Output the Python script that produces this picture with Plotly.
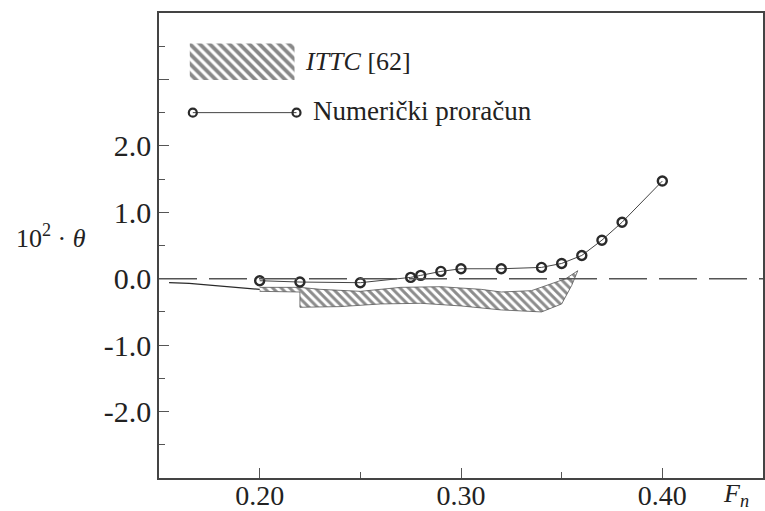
import plotly.graph_objects as go

# numerički proračun (Fn, 10^2*theta)
fn = [0.20, 0.22, 0.25, 0.275, 0.28, 0.29, 0.30, 0.32, 0.34, 0.35, 0.36, 0.37, 0.38, 0.40]
theta = [-0.03, -0.05, -0.06, 0.02, 0.05, 0.11, 0.15, 0.15, 0.17, 0.23, 0.35, 0.58, 0.85, 1.47]

# ITTC [62] pojas - gornja i donja granica
ittc_up_x = [0.20, 0.22, 0.23, 0.25, 0.27, 0.29, 0.31, 0.32, 0.335, 0.345, 0.352, 0.358]
ittc_up_y = [-0.13, -0.13, -0.16, -0.19, -0.13, -0.12, -0.16, -0.2, -0.18, -0.08, 0.0, 0.12]
ittc_lo_x = [0.358, 0.355, 0.35, 0.34, 0.32, 0.30, 0.28, 0.26, 0.24, 0.22, 0.22, 0.20]
ittc_lo_y = [0.12, -0.1, -0.38, -0.5, -0.47, -0.41, -0.37, -0.38, -0.42, -0.43, -0.2, -0.19]

# ITTC linija lijevo od pojasa
ittc_line_x = [0.155, 0.165, 0.20]
ittc_line_y = [-0.06, -0.07, -0.16]

yticks = [-2, -1, 0, 1, 2, 3]
yticktext = ["-2.0", "-1.0", "0.0", "1.0", "2.0", ""]
xticks = [0.20, 0.30, 0.40]
xticktext = ["0.20", "0.30", "0.40"]

ink = "#2a2a2a"
serif = "Liberation Serif"

fig = go.Figure()

# nulta linija (isprekidana)
fig.add_shape(type="line", xref="x domain", yref="y", x0=0, x1=1, y0=0, y1=0,
              line=dict(color="#555555", width=1.5, dash="38px,12px"))

hatch = dict(shape="\\", fgcolor="#1a1a1a", bgcolor="white", size=6, solidity=0.5)

fig.add_trace(go.Scatter(
    x=ittc_up_x + ittc_lo_x, y=ittc_up_y + ittc_lo_y,
    fill="toself", fillpattern=hatch, mode="lines",
    line=dict(color="#555555", width=0.8), hoverinfo="skip",
))
fig.add_trace(go.Scatter(
    x=ittc_line_x, y=ittc_line_y, mode="lines",
    line=dict(color=ink, width=1.2), hoverinfo="skip",
))
fig.add_trace(go.Scatter(
    x=fn, y=theta, mode="lines+markers",
    line=dict(color="#444444", width=1),
    marker=dict(symbol="circle-open", size=9, color=ink, line=dict(width=2.4, color=ink)),
))

# legenda (ručno)
fig.add_trace(go.Scatter(
    x=[0.1653, 0.2173, 0.2173, 0.1653], y=[2.99, 2.99, 3.54, 3.54],
    fill="toself", fillpattern=dict(shape="\\", fgcolor="#111", bgcolor="white", size=7, solidity=0.55),
    mode="lines", line=dict(width=0), hoverinfo="skip",
))
fig.add_trace(go.Scatter(
    x=[0.1668, 0.2183], y=[2.5, 2.5], mode="lines+markers",
    line=dict(color="#444444", width=1),
    marker=dict(symbol="circle-open", size=8, color=ink, line=dict(width=2.2, color=ink)),
))
fig.add_annotation(x=0.2215, y=3.27, xref="x", yref="y", xanchor="left", showarrow=False,
                   text="<i>ITTC</i> [62]", font=dict(family=serif, size=26, color="#222"))
fig.add_annotation(x=0.2255, y=2.52, xref="x", yref="y", xanchor="left", showarrow=False,
                   text="Numerički proračun", font=dict(family=serif, size=27, color="#222"))

# oznake osi
fig.add_annotation(x=-0.179, y=0.52, xref="x domain", yref="y domain", xanchor="center",
                   showarrow=False, text="10<sup>2</sup> · <i>θ</i>",
                   font=dict(family=serif, size=26, color="#222"))
fig.add_annotation(x=0.955, y=-0.036, xref="x domain", yref="y domain", xanchor="center",
                   yanchor="middle", showarrow=False, text="<i>F<sub>n</sub></i>",
                   font=dict(family=serif, size=26, color="#222"))

fig.update_layout(
    width=765, height=511,
    margin=dict(l=159, r=2, t=13, b=33),
    paper_bgcolor="white", plot_bgcolor="white",
    showlegend=False,
    font=dict(family=serif, size=30, color="#222"),
)

fig.update_xaxes(
    range=[0.15, 0.45], tickvals=xticks, ticktext=xticktext, automargin=False,
    tickfont=dict(size=28), ticklabelstandoff=-8,
    ticks="inside", ticklen=10, tickwidth=1.2, tickcolor="#555",
    minor=dict(tickvals=[0.25, 0.35], ticks="inside", ticklen=6, tickcolor="#555"),
    showgrid=False, zeroline=False,
    showline=True, mirror=True, linecolor="#444", linewidth=1.5,
)
fig.update_yaxes(
    range=[-3, 4], tickvals=yticks, ticktext=yticktext, automargin=False,
    tickfont=dict(size=30),
    ticks="inside", ticklen=10, tickwidth=1.2, tickcolor="#555",
    minor=dict(tickvals=[-2.5, -1.5, -0.5, 0.5, 1.5, 2.5, 3.5], ticks="inside", ticklen=6, tickcolor="#555"),
    showgrid=False, zeroline=False,
    showline=True, mirror=True, linecolor="#444", linewidth=1.5,
)

# stranica bez rubova tijela (body margin)
fig.write_html("out.html", config={"displayModeBar": False},
               post_script="document.body.style.margin='0';document.body.style.overflow='hidden';")
